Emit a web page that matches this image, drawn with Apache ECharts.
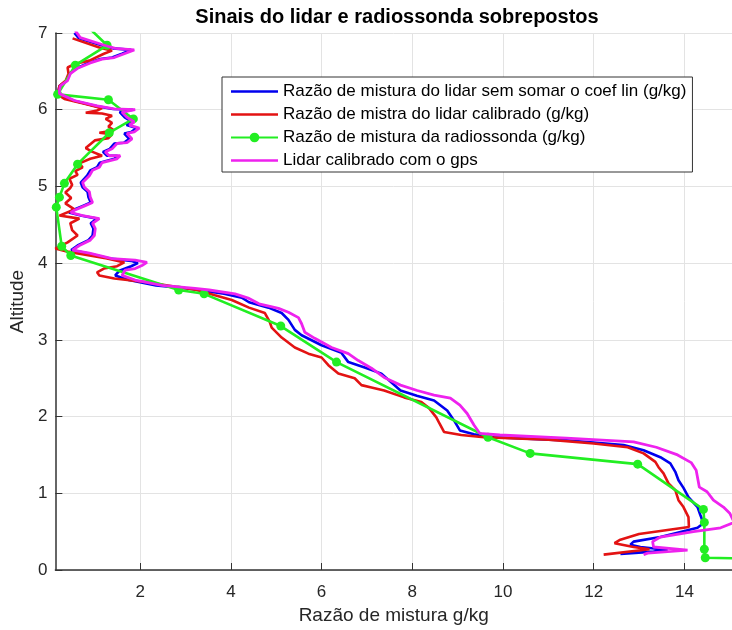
<!DOCTYPE html>
<html>
<head>
<meta charset="utf-8">
<script src="https://cdn.jsdelivr.net/npm/echarts@6/dist/echarts.min.js"></script>
<style>
html,body{margin:0;padding:0;background:#fff;}
#chart{width:732px;height:630px;}
</style>
</head>
<body>
<div id="chart"></div>
<script>
const chartTitle = 'Sinais do lidar e radiossonda sobrepostos';
const xAxisName = 'Razão de mistura g/kg';
const yAxisName = 'Altitude';
const seriesNames = [
  'Razão de mistura do lidar sem somar o coef lin (g/kg)',
  'Razão de mistra do lidar calibrado (g/kg)',
  'Razão de mistura da radiossonda (g/kg)',
  'Lidar calibrado com o gps'
];
const xTicks = [2, 4, 6, 8, 10, 12, 14];
const yTicks = [0, 1, 2, 3, 4, 5, 6, 7];

// [mixing ratio g/kg, altitude]
const lidarRaw = [
  [0.55,7.00],[0.65,6.93],[1.15,6.84],[1.40,6.80],[1.80,6.78],[1.60,6.73],[1.38,6.68],[1.12,6.66],[0.86,6.61],[0.60,6.54],
  [0.44,6.47],[0.38,6.38],[0.22,6.31],[0.20,6.25],[0.20,6.21],[0.52,6.12],[1.00,6.05],[1.40,6.01],[1.84,6.00],[1.55,5.97],
  [1.66,5.90],[1.82,5.84],[1.70,5.80],[1.92,5.76],[1.80,5.71],[1.65,5.69],[1.76,5.62],[1.64,5.57],[1.43,5.56],[1.33,5.49],
  [1.18,5.45],[1.27,5.40],[1.50,5.40],[1.43,5.36],[1.11,5.31],[1.05,5.25],[0.90,5.21],[0.83,5.14],[0.69,5.05],[0.73,4.99],
  [0.84,4.93],[0.86,4.86],[0.91,4.79],[0.75,4.75],[0.51,4.69],[0.43,4.66],[0.69,4.62],[1.05,4.58],[0.91,4.52],[0.97,4.45],
  [0.95,4.36],[0.86,4.30],[0.62,4.23],[0.48,4.17],[0.84,4.13],[1.33,4.06],[1.80,4.03],[1.95,4.00],[1.80,3.96],[1.54,3.90],
  [1.45,3.84],[1.75,3.78],[2.35,3.71],[3.05,3.67],[3.50,3.63],[3.85,3.60],[4.24,3.55],[4.40,3.49],[4.83,3.42],[5.12,3.35],
  [5.27,3.26],[5.41,3.13],[5.56,3.06],[6.00,2.93],[6.44,2.83],[6.59,2.71],[6.95,2.64],[7.32,2.56],[7.74,2.34],[8.10,2.27],
  [8.48,2.21],[8.77,2.08],[8.92,1.95],[9.05,1.82],[9.36,1.77],[9.80,1.73],[11.40,1.69],[12.66,1.63],[13.10,1.56],[13.47,1.47],
  [13.69,1.39],[13.80,1.28],[13.87,1.17],[13.98,1.07],[14.09,0.95],[14.29,0.82],[14.35,0.72],[14.42,0.61],[14.29,0.55],[13.47,0.43],
  [12.88,0.37],[12.81,0.33],[13.03,0.30],[13.63,0.26],[13.32,0.24],[12.59,0.21]
];

const lidarCal = [
  [0.51,6.93],[1.10,6.81],[1.38,6.77],[1.20,6.73],[0.88,6.64],[0.57,6.60],[0.40,6.55],[0.42,6.47],[0.36,6.38],[0.22,6.31],
  [0.20,6.25],[0.18,6.20],[0.33,6.14],[0.75,6.08],[1.16,6.02],[1.05,5.99],[0.80,5.96],[1.16,5.95],[1.38,5.92],[1.24,5.88],
  [1.38,5.83],[1.30,5.78],[1.42,5.73],[1.10,5.70],[1.38,5.68],[1.30,5.63],[1.00,5.60],[0.80,5.50],[0.95,5.45],[1.16,5.40],
  [0.90,5.36],[0.66,5.30],[0.73,5.25],[0.57,5.20],[0.62,5.15],[0.44,5.10],[0.50,5.02],[0.46,4.98],[0.35,4.92],[0.48,4.85],
  [0.35,4.78],[0.55,4.70],[0.22,4.62],[0.66,4.58],[0.46,4.52],[0.50,4.43],[0.62,4.36],[0.40,4.27],[0.13,4.19],[0.40,4.15],
  [1.27,4.06],[1.65,4.01],[1.49,3.96],[1.20,3.93],[1.05,3.88],[1.10,3.84],[1.43,3.80],[2.15,3.75],[3.25,3.65],[3.65,3.58],
  [4.02,3.52],[4.40,3.42],[4.75,3.35],[4.86,3.23],[4.90,3.16],[5.12,3.03],[5.41,2.90],[5.71,2.82],[6.00,2.77],[6.15,2.67],
  [6.37,2.56],[6.73,2.50],[6.88,2.41],[7.10,2.38],[7.38,2.34],[7.82,2.25],[8.20,2.19],[8.37,2.11],[8.53,1.99],[8.60,1.91],
  [8.70,1.80],[9.08,1.76],[9.58,1.73],[11.00,1.70],[12.00,1.65],[12.75,1.60],[13.10,1.52],[13.36,1.41],[13.43,1.34],[13.54,1.26],
  [13.65,1.13],[13.80,1.04],[13.87,0.91],[13.98,0.82],[14.09,0.69],[14.10,0.56],[13.00,0.47],[12.57,0.39],[12.46,0.35],[12.88,0.30],
  [13.23,0.27],[12.22,0.20]
];

const radiosonde = [
  [0.90,7.05],[1.27,6.84],[0.57,6.58],[0.18,6.20],[1.30,6.13],[1.85,5.88],[1.32,5.70],[0.62,5.29],[0.33,5.04],[0.22,4.86],
  [0.15,4.73],[0.27,4.22],[0.47,4.10],[2.85,3.65],[3.41,3.60],[5.10,3.18],[6.33,2.71],[9.67,1.73],[10.60,1.52],[12.97,1.38],
  [14.42,0.79],[14.44,0.62],[14.44,0.27],[14.46,0.16],[15.30,0.15]
];

const lidarGps = [
  [0.57,7.03],[0.68,6.94],[1.21,6.84],[1.45,6.80],[1.87,6.78],[1.65,6.73],[1.43,6.68],[1.16,6.66],[0.90,6.61],[0.62,6.54],
  [0.46,6.47],[0.40,6.38],[0.24,6.31],[0.22,6.25],[0.22,6.21],[0.55,6.12],[1.05,6.05],[1.43,6.01],[1.89,6.00],[1.60,5.97],
  [1.71,5.90],[1.87,5.84],[1.76,5.80],[1.98,5.76],[1.87,5.71],[1.71,5.69],[1.82,5.62],[1.71,5.57],[1.49,5.56],[1.38,5.49],
  [1.23,5.45],[1.32,5.40],[1.56,5.40],[1.49,5.36],[1.16,5.31],[1.10,5.25],[0.95,5.21],[0.88,5.14],[0.73,5.05],[0.77,4.99],
  [0.88,4.93],[0.90,4.86],[0.95,4.79],[0.79,4.75],[0.55,4.69],[0.47,4.66],[0.73,4.62],[1.10,4.58],[0.95,4.52],[1.01,4.45],
  [0.99,4.36],[0.90,4.30],[0.66,4.23],[0.51,4.17],[0.88,4.13],[1.38,4.06],[1.89,4.04],[2.15,4.01],[2.04,3.97],[1.89,3.93],
  [1.67,3.91],[1.60,3.84],[1.89,3.78],[2.48,3.71],[3.21,3.67],[3.52,3.65],[4.09,3.60],[4.40,3.54],[4.62,3.47],[5.05,3.41],
  [5.27,3.36],[5.49,3.29],[5.56,3.21],[5.63,3.10],[5.85,3.02],[6.22,2.90],[6.59,2.82],[6.81,2.73],[7.10,2.63],[7.38,2.51],
  [7.74,2.41],[8.11,2.34],[8.48,2.28],[8.84,2.24],[9.05,2.15],[9.21,2.04],[9.36,1.89],[9.49,1.78],[9.93,1.76],[11.40,1.72],
  [12.88,1.67],[13.38,1.60],[13.85,1.50],[14.15,1.40],[14.26,1.30],[14.33,1.08],[14.50,1.02],[14.64,0.91],[14.86,0.82],[15.00,0.74],
  [15.10,0.62],[14.80,0.55],[14.20,0.50],[13.47,0.43],[13.30,0.37],[13.32,0.30],[14.07,0.26],[13.19,0.22],[13.10,0.20]
];

const colors = ['#0000ee', '#e31313', '#22ee22', '#ee22ee'];
const FONT = '"Liberation Sans", Arial, Helvetica, sans-serif';
// plain line legend icon (bbox 47x12, bar in the middle)
const LINE_ICON = 'path://M0,0h0.01v0.01h-0.01z M0,4.7h47v2.6h-47z M46.99,11.99h0.01v0.01h-0.01z';

const chart = echarts.init(document.getElementById('chart'), null, {renderer: 'canvas'});

function lineSeries(name, data, color, width, z) {
  return {
    name: name, type: 'line', data: data, z: z,
    symbol: 'none', showSymbol: false, smooth: false,
    lineStyle: {color: color, width: width}, itemStyle: {color: color},
    emphasis: {disabled: true}, silent: true, clip: true
  };
}

const option = {
  animation: false,
  backgroundColor: '#ffffff',
  title: {
    text: chartTitle,
    left: 392, top: 2, textAlign: 'center',
    textStyle: {fontFamily: FONT, fontSize: 20, fontWeight: 'bold', color: '#000'}
  },
  legend: {
    orient: 'vertical',
    left: 222, top: 77,
    padding: [6, 6, 3, 8],
    itemGap: 6,
    itemWidth: 47, itemHeight: 12,
    borderColor: '#333', borderWidth: 1, backgroundColor: '#fff',
    textStyle: {fontFamily: FONT, fontSize: 17, color: '#000', lineHeight: 17},
    data: [
      {name: seriesNames[0], icon: LINE_ICON},
      {name: seriesNames[1], icon: LINE_ICON},
      {name: seriesNames[2]},
      {name: seriesNames[3], icon: LINE_ICON}
    ],
    selectedMode: false
  },
  grid: {left: 53, right: 0, top: 33, bottom: 60, containLabel: false},
  xAxis: {
    type: 'value', min: 0.13, max: 15.05,
    name: xAxisName, nameLocation: 'middle', nameGap: 36,
    nameTextStyle: {fontFamily: FONT, fontSize: 19, color: '#262626'},
    axisLine: {show: true, onZero: false, lineStyle: {color: '#333', width: 1.5}},
    axisTick: {show: true, inside: true, length: 7, customValues: xTicks, lineStyle: {color: '#333'}},
    axisLabel: {customValues: xTicks, margin: 14, fontFamily: FONT, fontSize: 17, color: '#262626'},
    splitLine: {show: true, lineStyle: {color: '#e3e3e3', width: 1}}
  },
  yAxis: {
    type: 'value', min: 0, max: 7, interval: 1,
    name: yAxisName, nameLocation: 'middle', nameGap: 23, nameRotate: 90,
    nameTextStyle: {fontFamily: FONT, fontSize: 19, color: '#262626'},
    axisLine: {show: true, lineStyle: {color: '#333', width: 1.5}},
    axisTick: {show: true, inside: true, length: 7, lineStyle: {color: '#333'}},
    axisLabel: {margin: 8, fontFamily: FONT, fontSize: 17, color: '#262626'},
    splitLine: {show: true, lineStyle: {color: '#e3e3e3', width: 1}}
  },
  series: [
    lineSeries(seriesNames[0], lidarRaw, colors[0], 2.6, 2),
    lineSeries(seriesNames[1], lidarCal, colors[1], 2.6, 3),
    {
      name: seriesNames[2], type: 'line', data: radiosonde, z: 4,
      symbol: 'circle', symbolSize: 9, showSymbol: true, smooth: false,
      lineStyle: {color: colors[2], width: 2.6}, itemStyle: {color: colors[2]},
      emphasis: {disabled: true}, silent: true, clip: true
    },
    lineSeries(seriesNames[3], lidarGps, colors[3], 2.8, 5)
  ]
};
chart.setOption(option);
</script>
</body>
</html>
